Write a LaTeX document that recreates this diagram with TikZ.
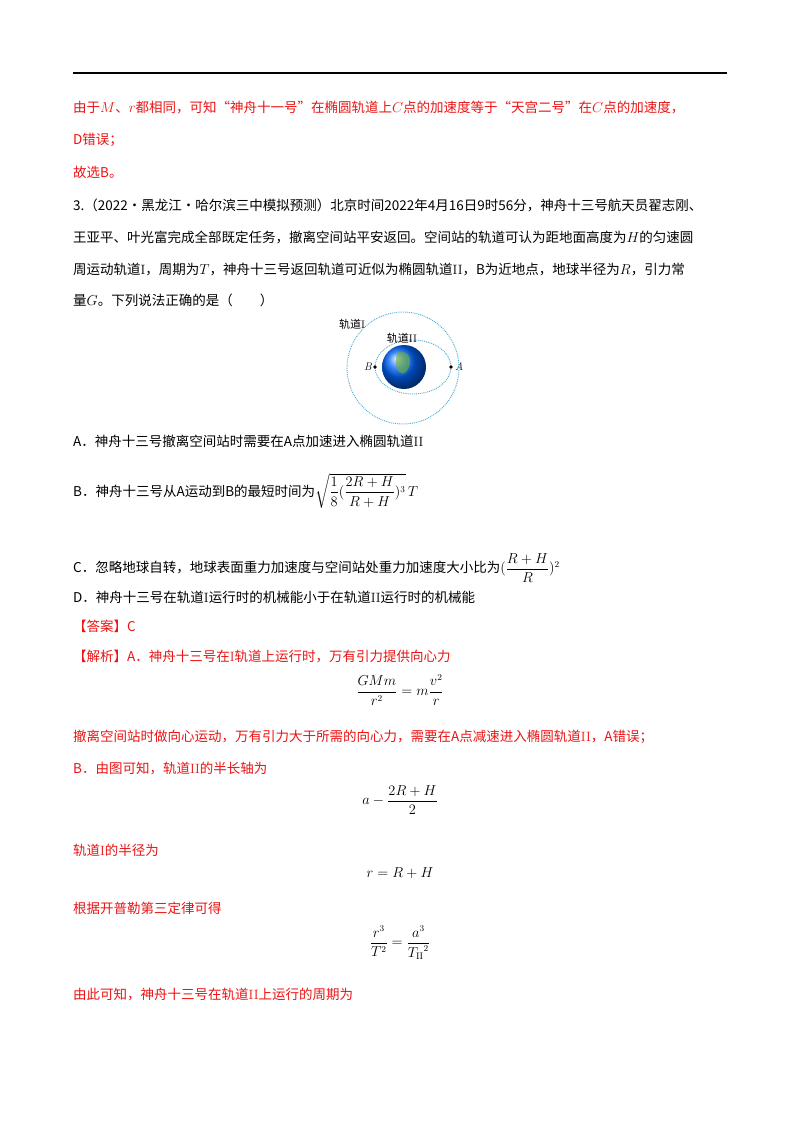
\documentclass[tikz,border=0pt]{standalone}
\usepackage{fontspec}
\usepackage{amsmath}
\newfontfamily\cj{Noto Sans CJK SC}
\definecolor{rd}{RGB}{235,20,20}
\definecolor{orb}{RGB}{70,170,210}
\begin{document}
\begin{tikzpicture}[x=1pt,y=-1pt,
  ln/.style={anchor=west,inner sep=0pt,font=\fontsize{13.5}{16}\cj},
  rl/.style={ln,text=rd},
  eq/.style={inner sep=0pt,font=\fontsize{13.5}{16}\selectfont},
  orbit/.style={orb,densely dotted,line width=0.9pt}]
\useasboundingbox (0,0) rectangle (800,1132);
\fill[white] (0,0) rectangle (800,1132);
\draw[line width=1.2pt] (73,73) -- (727,73);
\node[rl] (l1) at (73,108) {由于$M$、$r$都相同，可知“神舟十一号”在椭圆轨道上$C$点的加速度等于“天宫二号”在$C$点的加速度，};
\node[rl] (l2) at (73,140) {D错误；};
\node[rl] (l3) at (73,172) {故选B。};
\node[ln] (q1) at (73,205) {3.（2022·黑龙江·哈尔滨三中模拟预测）北京时间2022年4月16日9时56分，神舟十三号航天员翟志刚、};
\node[ln] (q2) at (73,237) {王亚平、叶光富完成全部既定任务，撤离空间站平安返回。空间站的轨道可认为距地面高度为$H$的匀速圆};
\node[ln] (q3) at (73,270) {周运动轨道\textrm{I}，周期为$T$，神舟十三号返回轨道可近似为椭圆轨道\textrm{II}，B为近地点，地球半径为$R$，引力常};
\node[ln] (q4) at (73,300) {量$G$。下列说法正确的是（\qquad）};
% figure
\draw[orbit] (403,368) circle (56);
\draw[orbit] (413,367) ellipse (38 and 27);
\shade[ball color=blue!60!cyan] (404,367) circle (22);
\fill[green!40!brown,opacity=.6] (398,352) .. controls (410,350) and (414,362) .. (406,372) .. controls (400,378) and (392,366) .. (398,352);
\fill (375,367) circle (1.8);
\fill (451,367) circle (1.8);
\node[font=\fontsize{11}{12}\selectfont\itshape,anchor=east,inner sep=1pt] (B) at (373,367) {B};
\node[font=\fontsize{11}{12}\selectfont\itshape,anchor=west,inner sep=1pt] (A) at (454,367) {A};
\node[font=\fontsize{11}{12}\cj,inner sep=0pt] (o1) at (352,324) {轨道\textrm{I}};
\node[font=\fontsize{11}{12}\cj,inner sep=0pt] (o2) at (402,338) {轨道\textrm{II}};
% options
\node[ln] (oa) at (73,441) {A．神舟十三号撤离空间站时需要在A点加速进入椭圆轨道\textrm{II}};
\node[ln] (ob) at (73,491) {B．神舟十三号从A运动到B的最短时间为$\sqrt{\dfrac{1}{8}(\dfrac{2R+H}{R+H})^3}\,T$};
\node[ln] (oc) at (73,568) {C．忽略地球自转，地球表面重力加速度与空间站处重力加速度大小比为$(\dfrac{R+H}{R})^2$};
\node[ln] (od) at (73,597) {D．神舟十三号在轨道\textrm{I}运行时的机械能小于在轨道\textrm{II}运行时的机械能};
\node[rl] (ans) at (73,626) {【答案】C};
\node[rl] (j1) at (73,657) {【解析】A．神舟十三号在\textrm{I}轨道上运行时，万有引力提供向心力};
\node[eq] (e1) at (400,690) {$\dfrac{GMm}{r^2}=m\dfrac{v^2}{r}$};
\node[rl] (j2) at (73,737) {撤离空间站时做向心运动，万有引力大于所需的向心力，需要在A点减速进入椭圆轨道\textrm{II}，A错误；};
\node[rl] (j3) at (73,769) {B．由图可知，轨道\textrm{II}的半长轴为};
\node[eq] (e2) at (400,800) {$a-\dfrac{2R+H}{2}$};
\node[rl] (j4) at (73,850) {轨道\textrm{I}的半径为};
\node[eq] (e3) at (400,873) {$r=R+H$};
\node[rl] (j5) at (73,908) {根据开普勒第三定律可得};
\node[eq] (e4) at (400,943) {$\dfrac{r^3}{T^2}=\dfrac{a^3}{{T_{\mathrm{II}}}^2}$};
\node[rl] (j6) at (73,995) {由此可知，神舟十三号在轨道\textrm{II}上运行的周期为};
\end{tikzpicture}
\end{document}
